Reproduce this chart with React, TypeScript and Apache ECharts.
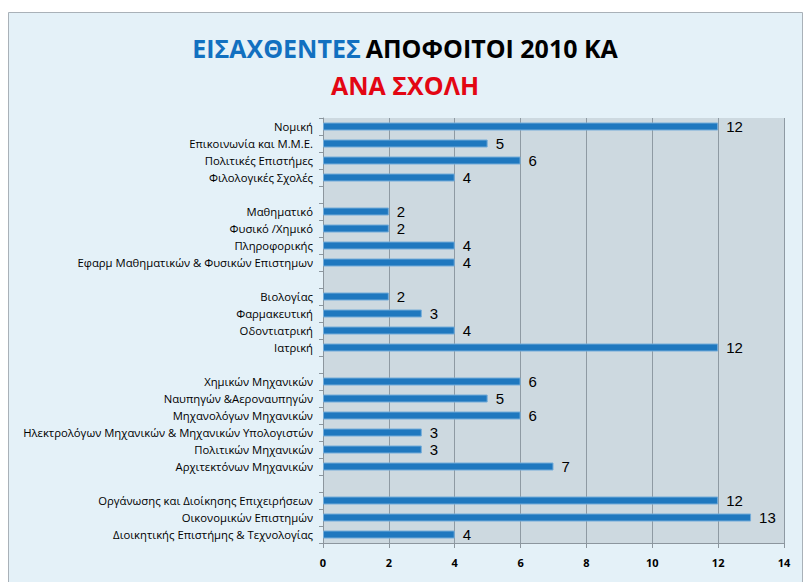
import React, { useEffect, useRef } from "react";
import * as echarts from "echarts";

const categories: string[] = [
  "Νομική",
  "Επικοινωνία και Μ.Μ.Ε.",
  "Πολιτικές Επιστήμες",
  "Φιλολογικές Σχολές",
  "",
  "Μαθηματικό",
  "Φυσικό /Χημικό",
  "Πληροφορικής",
  "Εφαρμ Μαθηματικών & Φυσικών Επιστημων",
  "",
  "Βιολογίας",
  "Φαρμακευτική",
  "Οδοντιατρική",
  "Ιατρική",
  "",
  "Χημικών Μηχανικών",
  "Ναυπηγών &Αεροναυπηγών",
  "Μηχανολόγων Μηχανικών",
  "Ηλεκτρολόγων Μηχανικών & Μηχανικών Υπολογιστών",
  "Πολιτικών Μηχανικών",
  "Αρχιτεκτόνων Μηχανικών",
  "",
  "Οργάνωσης και Διοίκησης Επιχειρήσεων",
  "Οικονομικών Επιστημών",
  "Διοικητικής Επιστήμης & Τεχνολογίας",
];

const values: (number | null)[] = [
  12, 5, 6, 4, null,
  2, 2, 4, 4, null,
  2, 3, 4, 12, null,
  6, 5, 6, 3, 3, 7, null,
  12, 13, 4,
];

const xTicks = { min: 0, max: 14, interval: 2 };

const titleLine1Blue = "ΕΙΣΑΧΘΕΝΤΕΣ";
const titleLine1Black = "ΑΠΟΦΟΙΤΟΙ 2010 ΚΑ";
const titleLine2 = "ΑΝΑ ΣΧΟΛΗ";

const FONT = "'Open Sans', sans-serif";
const VALUE_FONT = "'Liberation Sans', sans-serif";

export default function App() {
  const ref = useRef<HTMLDivElement>(null);
  useEffect(() => {
    if (!ref.current) return;
    const chart = echarts.init(ref.current, null, { renderer: "svg" });
    chart.setOption({
      animation: false,
      backgroundColor: "#ffffff",
      graphic: [
        {
          type: "rect",
          z: -10,
          shape: { x: 8.5, y: 12.5, width: 794, height: 580 },
          style: { fill: "#e4f1f8", stroke: "#a9b1b8", lineWidth: 1 },
          silent: true,
        },
      ],
      title: [
        {
          text: `{b|${titleLine1Blue}} {k|${titleLine1Black}}`,
          left: "center",
          top: 30,
          textStyle: {
            rich: {
              b: { color: "#1270c0", fontSize: 25, fontWeight: "bold", fontFamily: FONT },
              k: { color: "#000000", fontSize: 25, fontWeight: "bold", fontFamily: FONT },
            },
          },
        },
        {
          text: titleLine2,
          left: "center",
          top: 67,
          textStyle: { color: "#e30613", fontSize: 25, fontWeight: "bold", fontFamily: FONT },
        },
      ],
      grid: { left: 323, right: 26, top: 118, bottom: 39, show: true, backgroundColor: "#cdd9e0", borderWidth: 0 },
      xAxis: {
        type: "value",
        min: xTicks.min,
        max: xTicks.max,
        interval: xTicks.interval,
        axisLine: { show: true, lineStyle: { color: "#8c969e" } },
        axisTick: { show: true, length: 5, lineStyle: { color: "#8c969e" } },
        axisLabel: { color: "#000", fontSize: 11, fontWeight: "bold", fontFamily: FONT, margin: 14 },
        splitLine: { show: true, lineStyle: { color: "#8e9aa3", width: 1 } },
      },
      yAxis: {
        type: "category",
        inverse: true,
        data: categories,
        axisLine: { show: true, lineStyle: { color: "#8c969e" } },
        axisTick: { show: true, length: 4, lineStyle: { color: "#8c969e" } },
        axisLabel: { color: "#000", fontSize: 11.3, fontFamily: FONT, margin: 10, interval: 0 },
      },
      series: [
        {
          type: "bar",
          data: values,
          barWidth: 8,
          itemStyle: { color: "#1f78bf", borderColor: "#74acd9", borderWidth: 1 },
          label: {
            show: true,
            position: "right",
            distance: 8,
            color: "#000",
            fontSize: 15,
            lineHeight: 15,
            fontFamily: VALUE_FONT,
          },
        },
      ],
    });
    return () => chart.dispose();
  }, []);
  return <div ref={ref} style={{ position: "absolute", left: 0, top: 0, width: 810, height: 582 }} />;
}
